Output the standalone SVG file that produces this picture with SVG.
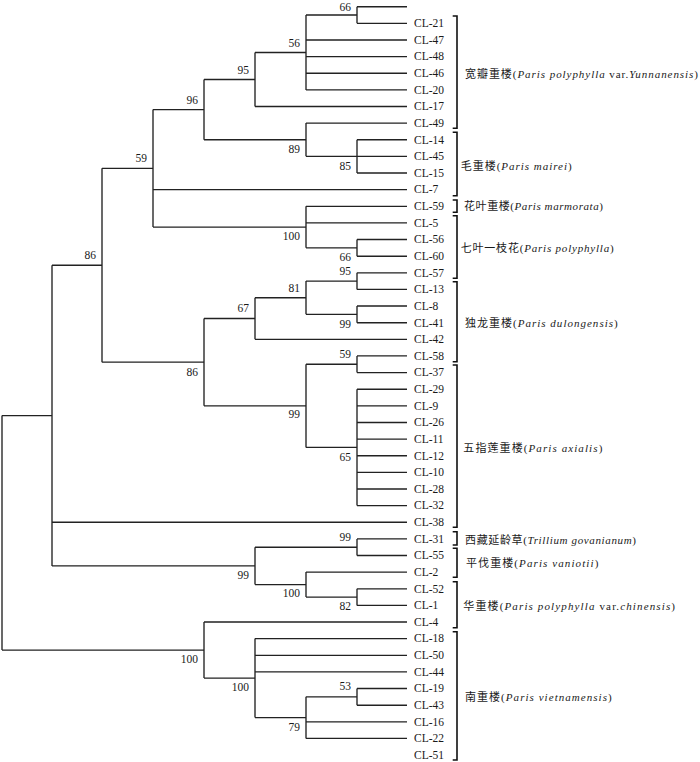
<svg xmlns="http://www.w3.org/2000/svg" width="700" height="762" viewBox="0 0 700 762">
<style>
.ln{fill:none;stroke:#222;stroke-width:1.35}
.br{fill:none;stroke:#111;stroke-width:1.6}
.lf{font-family:"Liberation Serif","Noto Sans CJK SC",serif;font-size:11.5px;fill:#1a1a1a}
.bs{font-family:"Liberation Serif","Noto Sans CJK SC",serif;font-size:11.5px;fill:#1a1a1a;text-anchor:end}
.cl{font-family:"Liberation Serif","Noto Sans CJK SC",serif;font-size:11px;fill:#1a1a1a}
.it{font-style:italic}
</style>
<rect width="700" height="762" fill="#fff"/>
<g id="connectors" class="ln">
<path d="M2,415.6V650.05M2,415.6H52M2,650.05H204"/>
<path d="M52,265.25V565.9M52,265.25H102M52,522.2H407M52,565.9H255"/>
<path d="M102,168.35V362.15M102,168.35H153M102,362.15H204"/>
<path d="M153,109.6V227.1M153,109.6H204M153,189.6H407M153,227.1H306"/>
<path d="M204,79.5V139.7M204,79.5H255M204,139.7H306"/>
<path d="M255,52.45V106.5M255,52.45H306M255,106.5H407"/>
<path d="M306,15V89.9M306,15H357M306,40H407M306,56.6H407M306,73.2H407M306,89.9H407"/>
<path d="M357,6.7V23.3M357,6.7H407M357,23.3H407"/>
<path d="M306,123.1V156.35M306,123.1H407M306,156.35H357"/>
<path d="M357,139.7V173M357,139.7H407M357,156.4H407M357,173H407"/>
<path d="M306,206.3V247.85M306,206.3H407M306,222.9H407M306,247.85H357"/>
<path d="M357,239.5V256.2M357,239.5H407M357,256.2H407"/>
<path d="M204,318.5V405.8M204,318.5H255M204,405.8H306"/>
<path d="M255,297.7V339.3M255,297.7H306M255,339.3H407"/>
<path d="M306,281.1V314.35M306,281.1H357M306,314.35H357"/>
<path d="M357,272.8V289.4M357,272.8H407M357,289.4H407"/>
<path d="M357,306V322.7M357,306H407M357,322.7H407"/>
<path d="M306,364.25V447.4M306,364.25H357M306,447.4H357"/>
<path d="M357,355.9V372.6M357,355.9H407M357,372.6H407"/>
<path d="M357,389.2V505.6M357,389.2H407M357,405.8H407M357,422.5H407M357,439.1H407M357,455.7H407M357,472.3H407M357,489H407M357,505.6H407"/>
<path d="M255,547.2V584.6M255,547.2H357M255,584.6H306"/>
<path d="M357,538.9V555.5M357,538.9H407M357,555.5H407"/>
<path d="M306,572.1V597.1M306,572.1H407M306,597.1H357"/>
<path d="M357,588.8V605.4M357,588.8H407M357,605.4H407"/>
<path d="M204,622V678.1M204,622H407M204,678.1H255"/>
<path d="M255,638.6V717.6M255,638.6H407M255,655.3H407M255,671.9H407M255,717.6H306"/>
<path d="M306,696.85V738.4M306,696.85H357M306,721.8H407M306,738.4H407"/>
<path d="M357,688.5V705.2M357,688.5H407M357,705.2H407"/>
</g>
<g id="support-values" class="bs">
<text id="n66a" x="351" y="11">66</text>
<text id="n56" x="300" y="46.5">56</text>
<text id="n95a" x="249" y="73.5">95</text>
<text id="n96" x="198" y="103.5">96</text>
<text id="n89" x="300" y="153">89</text>
<text id="n85" x="351" y="170">85</text>
<text id="n59a" x="147" y="162">59</text>
<text id="n100a" x="300" y="240">100</text>
<text id="n66b" x="351" y="261">66</text>
<text id="n86a" x="96" y="258.5">86</text>
<text id="n95b" x="351" y="274.5">95</text>
<text id="n81" x="300" y="292">81</text>
<text id="n67" x="249" y="312">67</text>
<text id="n99a" x="351" y="328">99</text>
<text id="n59b" x="351" y="358">59</text>
<text id="n86b" x="198" y="375.5">86</text>
<text id="n99b" x="300" y="418">99</text>
<text id="n65" x="351" y="460.5">65</text>
<text id="n99c" x="351" y="541">99</text>
<text id="n99d" x="249" y="579">99</text>
<text id="n100b" x="300" y="597">100</text>
<text id="n82" x="351" y="610">82</text>
<text id="n100c" x="198" y="663">100</text>
<text id="n100d" x="249" y="691">100</text>
<text id="n53" x="351" y="690">53</text>
<text id="n79" x="300" y="731">79</text>
</g>
<g id="leaves" class="lf">
<g id="leaf-CL-21"><text x="414" y="27.1">CL-21</text></g>
<g id="leaf-CL-47"><text x="414" y="43.8">CL-47</text></g>
<g id="leaf-CL-48"><text x="414" y="60.4">CL-48</text></g>
<g id="leaf-CL-46"><text x="414" y="77">CL-46</text></g>
<g id="leaf-CL-20"><text x="414" y="93.7">CL-20</text></g>
<g id="leaf-CL-17"><text x="414" y="110.3">CL-17</text></g>
<g id="leaf-CL-49"><text x="414" y="126.9">CL-49</text></g>
<g id="leaf-CL-14"><text x="414" y="143.5">CL-14</text></g>
<g id="leaf-CL-45"><text x="414" y="160.2">CL-45</text></g>
<g id="leaf-CL-15"><text x="414" y="176.8">CL-15</text></g>
<g id="leaf-CL-7"><text x="414" y="193.4">CL-7</text></g>
<g id="leaf-CL-59"><text x="414" y="210.1">CL-59</text></g>
<g id="leaf-CL-5"><text x="414" y="226.7">CL-5</text></g>
<g id="leaf-CL-56"><text x="414" y="243.3">CL-56</text></g>
<g id="leaf-CL-60"><text x="414" y="260">CL-60</text></g>
<g id="leaf-CL-57"><text x="414" y="276.6">CL-57</text></g>
<g id="leaf-CL-13"><text x="414" y="293.2">CL-13</text></g>
<g id="leaf-CL-8"><text x="414" y="309.8">CL-8</text></g>
<g id="leaf-CL-41"><text x="414" y="326.5">CL-41</text></g>
<g id="leaf-CL-42"><text x="414" y="343.1">CL-42</text></g>
<g id="leaf-CL-58"><text x="414" y="359.7">CL-58</text></g>
<g id="leaf-CL-37"><text x="414" y="376.4">CL-37</text></g>
<g id="leaf-CL-29"><text x="414" y="393">CL-29</text></g>
<g id="leaf-CL-9"><text x="414" y="409.6">CL-9</text></g>
<g id="leaf-CL-26"><text x="414" y="426.3">CL-26</text></g>
<g id="leaf-CL-11"><text x="414" y="442.9">CL-11</text></g>
<g id="leaf-CL-12"><text x="414" y="459.5">CL-12</text></g>
<g id="leaf-CL-10"><text x="414" y="476.1">CL-10</text></g>
<g id="leaf-CL-28"><text x="414" y="492.8">CL-28</text></g>
<g id="leaf-CL-32"><text x="414" y="509.4">CL-32</text></g>
<g id="leaf-CL-38"><text x="414" y="526">CL-38</text></g>
<g id="leaf-CL-31"><text x="414" y="542.7">CL-31</text></g>
<g id="leaf-CL-55"><text x="414" y="559.3">CL-55</text></g>
<g id="leaf-CL-2"><text x="414" y="575.9">CL-2</text></g>
<g id="leaf-CL-52"><text x="414" y="592.6">CL-52</text></g>
<g id="leaf-CL-1"><text x="414" y="609.2">CL-1</text></g>
<g id="leaf-CL-4"><text x="414" y="625.8">CL-4</text></g>
<g id="leaf-CL-18"><text x="414" y="642.4">CL-18</text></g>
<g id="leaf-CL-50"><text x="414" y="659.1">CL-50</text></g>
<g id="leaf-CL-44"><text x="414" y="675.7">CL-44</text></g>
<g id="leaf-CL-19"><text x="414" y="692.3">CL-19</text></g>
<g id="leaf-CL-43"><text x="414" y="709">CL-43</text></g>
<g id="leaf-CL-16"><text x="414" y="725.6">CL-16</text></g>
<g id="leaf-CL-22"><text x="414" y="742.2">CL-22</text></g>
<g id="leaf-CL-51"><text x="414" y="758.8">CL-51</text></g>
</g>
<g id="clades">
<g id="clade-yunnanensis"><path class="br" d="M452.7,16H457V128.3H452.7"/><text class="cl" x="465" y="78" textLength="233" lengthAdjust="spacing">宽瓣重楼(<tspan class="it">Paris polyphylla</tspan> var.<tspan class="it">Yunnanensis</tspan>)</text></g>
<g id="clade-mairei"><path class="br" d="M452.7,132.3H457V195.7H452.7"/><text class="cl" x="460.7" y="169.7" textLength="111" lengthAdjust="spacing">毛重楼(<tspan class="it">Paris mairei</tspan>)</text></g>
<g id="clade-marmorata"><path class="br" d="M452.7,200H457V212.3H452.7"/><text class="cl" x="464" y="209.7" textLength="139" lengthAdjust="spacing">花叶重楼(<tspan class="it">Paris marmorata</tspan>)</text></g>
<g id="clade-polyphylla"><path class="br" d="M452.7,215.7H457V278.3H452.7"/><text class="cl" x="460.7" y="252.3" textLength="153" lengthAdjust="spacing">七叶一枝花(<tspan class="it">Paris polyphylla</tspan>)</text></g>
<g id="clade-dulongensis"><path class="br" d="M452.7,281.7H457V361.7H452.7"/><text class="cl" x="465" y="326.7" textLength="152.7" lengthAdjust="spacing">独龙重楼(<tspan class="it">Paris dulongensis</tspan>)</text></g>
<g id="clade-axialis"><path class="br" d="M452.7,365H457V527.3H452.7"/><text class="cl" x="463.3" y="452.3" textLength="139" lengthAdjust="spacing">五指莲重楼(<tspan class="it">Paris axialis</tspan>)</text></g>
<g id="clade-trillium"><path class="br" d="M452.7,531.7H457V545H452.7"/><text class="cl" x="465" y="544" textLength="171" lengthAdjust="spacing">西藏延龄草(<tspan class="it">Trillium govanianum</tspan>)</text></g>
<g id="clade-vaniotii"><path class="br" d="M452.7,548.3H457V577.3H452.7"/><text class="cl" x="466" y="567.3" textLength="132.3" lengthAdjust="spacing">平伐重楼(<tspan class="it">Paris vaniotii</tspan>)</text></g>
<g id="clade-chinensis"><path class="br" d="M452.7,581.7H457V627.7H452.7"/><text class="cl" x="463.3" y="610" textLength="211.7" lengthAdjust="spacing">华重楼(<tspan class="it">Paris polyphylla</tspan> var.<tspan class="it">chinensis</tspan>)</text></g>
<g id="clade-vietnamensis"><path class="br" d="M452.7,631.7H457V760H452.7"/><text class="cl" x="465" y="701.3" textLength="146.7" lengthAdjust="spacing">南重楼(<tspan class="it">Paris vietnamensis</tspan>)</text></g>
</g>
</svg>
